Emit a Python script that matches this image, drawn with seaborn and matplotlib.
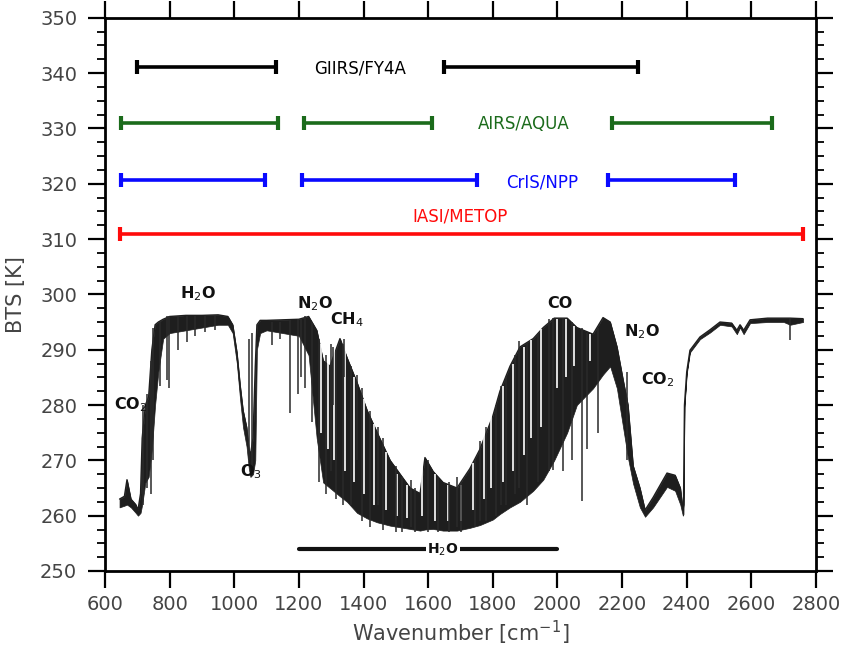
import numpy as np
import pandas as pd
import matplotlib
matplotlib.use("Agg")
import matplotlib.pyplot as plt
import seaborn as sns
from matplotlib.ticker import MultipleLocator, NullLocator

# ---------------- data ----------------
spec_wn = [645, 660, 668, 680, 695, 702, 710, 715, 725, 735, 745, 755, 765, 780, 800,
           850, 900, 950, 980, 995, 1008, 1018, 1027, 1038, 1045, 1050, 1058, 1065, 1070,
           1080, 1100, 1150, 1200, 1230, 1255, 1275, 1296, 1327, 1349, 1380, 1411, 1442,
           1482, 1544, 1575, 1590, 1615, 1646, 1689, 1729, 1760, 1800, 1822, 1853, 1884,
           1925, 1956, 1990, 2030, 2060, 2110, 2141, 2163, 2184, 2203, 2218, 2234, 2255,
           2271, 2296, 2339, 2364, 2380, 2388, 2390, 2393, 2400, 2410, 2441, 2472, 2503,
           2539, 2555, 2565, 2576, 2596, 2650, 2700, 2720, 2760]
spec_top = [263.0, 263.5, 266.5, 263.0, 262.0, 261.0, 264.0, 274.0, 280.0, 281.5, 290.0,
            294.5, 295.0, 295.5, 296.0, 296.2, 296.2, 296.3, 296.0, 294.5, 289.5, 283.5,
            279.0, 276.0, 272.0, 271.0, 274.0, 287.0, 294.5, 295.3, 295.3, 295.4, 295.5,
            296.0, 293.5, 288.0, 287.0, 292.0, 288.5, 284.0, 279.0, 275.0, 270.0, 265.0,
            264.0, 270.5, 268.0, 266.0, 265.0, 268.5, 272.0, 278.0, 282.5, 287.0, 290.5,
            292.0, 294.0, 295.7, 295.7, 294.0, 292.8, 295.8, 295.0, 290.5, 284.5, 280.0,
            269.0, 265.0, 261.0, 263.3, 267.7, 267.3, 265.0, 261.0, 262.0, 280.0, 286.0,
            289.9, 292.3, 293.6, 295.0, 294.8, 293.5, 294.5, 293.5, 295.4, 295.7, 295.7,
            295.7, 295.6]
spec_low = [261.5, 261.8, 262.0, 261.5, 260.5, 260.0, 260.5, 262.0, 266.0, 267.0, 272.0,
            280.0, 286.0, 292.0, 293.0, 293.5, 294.0, 294.5, 294.5, 293.0, 287.5, 281.0,
            276.0, 272.5, 268.5, 267.0, 267.5, 270.0, 290.0, 293.0, 293.5, 293.0, 292.5,
            289.0, 274.0, 266.0, 265.0, 263.5, 262.5, 260.5, 259.5, 258.8, 258.2, 257.6,
            257.3, 257.5, 257.6, 257.3, 257.3, 257.8, 258.3, 259.3, 260.3, 261.5, 262.5,
            264.5, 266.5, 270.0, 275.0, 280.0, 283.0, 285.5, 287.0, 283.0, 276.0, 270.5,
            265.8, 261.5, 259.8, 261.5, 265.2, 264.5, 262.0, 260.0, 260.3, 279.6, 285.6,
            289.5, 291.9, 293.1, 294.5, 294.2, 292.8, 294.0, 292.8, 294.8, 295.0, 295.0,
            294.5, 295.0]

# dark absorption lines (bottom, top)
spike_wn = [718, 730, 742, 750, 770, 792, 798, 826, 854, 880, 909, 940, 1046, 1054,
            1117, 1140, 1172, 1197, 1207, 1220, 1240, 1262, 1283, 1300, 1305, 1315, 1335,
            1340, 1360, 1380, 1395, 1420, 1445, 1460, 1500, 1520, 1548, 1560, 1600, 1630,
            1665, 1690, 1700, 1745, 1760, 1780, 1810, 1825, 1840, 1870, 1880, 1905, 1940,
            1975, 1986, 2017, 2045, 2076, 2090, 2125, 2215, 2720]
spike_lo = [262.0, 265.0, 264.0, 270.0, 283.5, 284.5, 283.0, 290.0, 291.3, 292.5, 293.2,
            293.5, 270.0, 268.0, 290.8, 292.0, 278.5, 282.0, 285.0, 283.0, 277.0, 266.0,
            264.0, 268.0, 280.0, 263.0, 262.0, 285.0, 262.0, 270.0, 259.0, 258.0, 262.0,
            257.5, 257.0, 257.0, 258.0, 257.0, 257.0, 257.0, 257.0, 258.0, 257.0, 258.0,
            259.0, 259.0, 260.0, 262.0, 262.0, 264.0, 265.0, 262.0, 266.0, 268.0, 268.3,
            268.0, 270.0, 262.7, 272.0, 275.0, 270.0, 291.7]
spike_hi = [280.0, 282.0, 288.0, 294.0, 295.0, 296.0, 296.0, 296.0, 296.0, 296.0, 296.0,
            296.0, 292.0, 293.0, 295.0, 295.0, 295.3, 295.5, 295.5, 296.0, 295.0, 292.0,
            289.0, 291.0, 290.5, 290.0, 291.0, 292.0, 287.0, 285.5, 283.0, 279.0, 276.0,
            274.0, 269.0, 267.0, 266.5, 265.0, 270.0, 267.0, 266.0, 267.0, 266.0, 270.0,
            273.5, 276.0, 280.0, 283.5, 285.0, 289.0, 291.5, 291.0, 293.0, 295.5, 295.7,
            295.7, 295.0, 294.0, 293.0, 294.0, 286.0, 295.7]

# white gaps between lines in the dense band (bottom, top)
gap_wn = [1268, 1290, 1310, 1342, 1372, 1402, 1432, 1468, 1505, 1535, 1582, 1622, 1660,
          1700, 1738, 1772, 1795, 1832, 1862, 1895, 1918, 1948, 1998, 2025, 2052, 2100]
gap_lo = [275.0, 272.0, 270.0, 268.0, 266.0, 264.0, 262.0, 261.0, 260.0, 259.5, 260.0,
          259.0, 259.0, 259.0, 261.0, 263.0, 265.0, 266.0, 268.0, 271.0, 274.0, 276.0,
          283.0, 285.0, 287.0, 288.0]
gap_hi = [291.0, 288.0, 290.0, 290.5, 285.0, 281.0, 276.5, 271.5, 267.5, 265.5, 269.5,
          267.5, 265.5, 265.5, 269.5, 275.5, 278.5, 283.5, 287.5, 290.5, 291.8, 293.8,
          295.5, 295.5, 294.3, 292.8]

# instrument coverage (start, end) and level
giirs_start = [700, 1650]
giirs_end = [1130, 2250]
airs_start = [650, 1217, 2169]
airs_end = [1136, 1613, 2665]
cris_start = [650, 1210, 2155]
cris_end = [1095, 1750, 2550]
iasi_start = [645]
iasi_end = [2760]
instr_names = ["GIIRS/FY4A", "AIRS/AQUA", "CrIS/NPP", "IASI/METOP"]
instr_level = [341.0, 331.0, 320.7, 310.9]

h2o_band = [1200, 2000]

mol_labels = ["H$_2$O", "CO$_2$", "O$_3$", "N$_2$O", "CH$_4$", "CO", "N$_2$O", "CO$_2$"]
mol_wn = [888, 680, 1052, 1250, 1349, 2008, 2262, 2310]
mol_bt = [300.2, 280.0, 268.0, 298.3, 295.5, 298.3, 293.2, 284.6]

# ---------------- figure ----------------
sns.set_theme(style="ticks")
plt.rcParams["font.family"] = ["DejaVu Sans"]

fig = plt.figure(figsize=(8.44, 6.5), dpi=100)
ax = fig.add_axes([105 / 844, 1 - 571 / 650, 711 / 844, (571 - 17.7) / 650])

spec = pd.DataFrame({"wn": spec_wn, "top": spec_top, "low": spec_low})
ax.fill_between(spec["wn"], spec["low"], spec["top"], color="#1e1e1e",
                edgecolor="#1e1e1e", lw=0.5)
sns.lineplot(data=spec, x="wn", y="top", color="#1e1e1e", lw=1.0,
             estimator=None, sort=False, ax=ax)
ax.vlines(gap_wn, gap_lo, gap_hi, color="white", lw=1.2)
ax.vlines(spike_wn, spike_lo, spike_hi, color="#2a2a2a", lw=1.1)

colors = ["#000000", "#1b6b1b", "#0a0aff", "#ff0a0a"]
starts = [giirs_start, airs_start, cris_start, iasi_start]
ends = [giirs_end, airs_end, cris_end, iasi_end]
for s_list, e_list, lvl, col in zip(starts, ends, instr_level, colors):
    for s, e in zip(s_list, e_list):
        ax.plot([s, e], [lvl, lvl], color=col, lw=2.6, solid_capstyle="butt")
        ax.plot([s, e], [lvl, lvl], color=col, ls="none", marker="|",
                ms=10, mew=3)

lab_x = [1389, 1896, 1952, 1698]
lab_y = [340.9, 330.8, 320.2, 314.0]
for name, x, y, col in zip(instr_names, lab_x, lab_y, colors):
    ax.text(x, y, name, color=col, fontsize=12, ha="center", va="center")

for lab, x, y in zip(mol_labels, mol_wn, mol_bt):
    ax.text(x, y, lab, fontsize=11.5, fontweight="bold", ha="center", va="center",
            color="#111111")

ax.plot(h2o_band, [253.9, 253.9], color="#111111", lw=3)
ax.text(1645, 253.9, "H$_2$O", fontsize=10, fontweight="bold", ha="center",
        va="center", color="#111111",
        bbox=dict(facecolor="white", edgecolor="none", pad=1))

ax.set_xlim(600, 2800)
ax.set_ylim(250, 350)
ax.xaxis.set_major_locator(MultipleLocator(200))
ax.xaxis.set_minor_locator(NullLocator())
ax.yaxis.set_major_locator(MultipleLocator(10))
ax.yaxis.set_minor_locator(MultipleLocator(2.5))
ax.tick_params(which="major", direction="out", length=12, width=1.6,
               top=True, right=True, labelsize=14, labelcolor="#444444", color="black")
ax.tick_params(which="minor", direction="out", length=6, width=1.3,
               left=True, right=True, color="black")
ax.tick_params(axis="x", pad=5)
ax.tick_params(axis="y", pad=8)
for sp in ax.spines.values():
    sp.set_linewidth(2)
    sp.set_color("black")
    sp.set_visible(True)

ax.set_xlabel("Wavenumber [cm$^{-1}$]", fontsize=15, color="#444444", labelpad=4)
ax.set_ylabel("BTS [K]", fontsize=15, color="#444444", labelpad=10)

fig.savefig("out.png", dpi=100)
